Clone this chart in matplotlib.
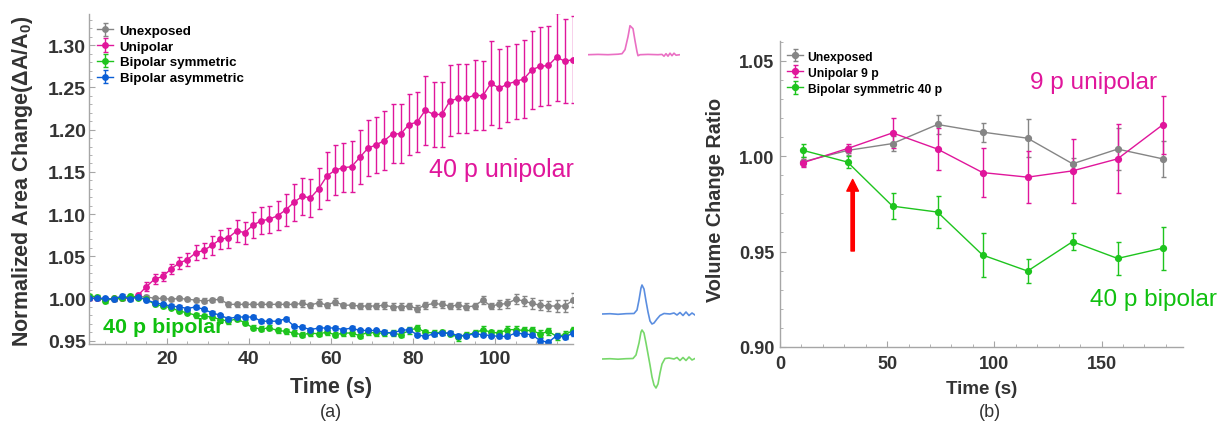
import numpy as np
import matplotlib
matplotlib.use("Agg")
import matplotlib.pyplot as plt

plt.rcParams['font.family'] = ['Liberation Sans', 'DejaVu Sans']
plt.rcParams['mathtext.default'] = 'regular'

# ---- panel (a): normalized area change, one sample every 2 s ----
time_a = np.arange(1, 120, 2)

unexposed_a = [1.000, 1.000, 0.999, 0.999, 1.000, 1.000, 1.002, 1.002, 1.000, 1.000,
               0.999, 1.000, 0.999, 0.998, 0.997, 0.998, 0.999, 0.993, 0.993, 0.993,
               0.993, 0.993, 0.993, 0.993, 0.993, 0.993, 0.994, 0.992, 0.995, 0.992,
               0.996, 0.992, 0.992, 0.991, 0.991, 0.991, 0.992, 0.990, 0.990, 0.991,
               0.988, 0.992, 0.994, 0.993, 0.991, 0.992, 0.990, 0.991, 0.998, 0.991,
               0.993, 0.994, 0.999, 0.997, 0.994, 0.992, 0.991, 0.991, 0.991, 0.998]
unexposed_a_err = [0.002, 0.002, 0.002, 0.002, 0.002, 0.002, 0.002, 0.002, 0.002, 0.002,
                   0.002, 0.002, 0.002, 0.002, 0.003, 0.002, 0.003, 0.003, 0.003, 0.003,
                   0.003, 0.003, 0.003, 0.003, 0.003, 0.003, 0.004, 0.003, 0.004, 0.003,
                   0.004, 0.003, 0.003, 0.003, 0.003, 0.004, 0.004, 0.004, 0.004, 0.004,
                   0.004, 0.004, 0.004, 0.004, 0.004, 0.004, 0.004, 0.004, 0.005, 0.004,
                   0.005, 0.005, 0.006, 0.006, 0.006, 0.006, 0.006, 0.007, 0.007, 0.008]

unipolar_a = [1.000, 1.001, 0.999, 1.000, 1.001, 1.000, 1.004, 1.014, 1.023, 1.026,
              1.035, 1.042, 1.046, 1.054, 1.057, 1.063, 1.070, 1.072, 1.080, 1.078,
              1.087, 1.092, 1.094, 1.098, 1.105, 1.114, 1.121, 1.119, 1.130, 1.145,
              1.152, 1.155, 1.156, 1.167, 1.178, 1.182, 1.187, 1.195, 1.195, 1.206,
              1.209, 1.223, 1.218, 1.218, 1.234, 1.237, 1.237, 1.241, 1.240, 1.255,
              1.249, 1.254, 1.257, 1.260, 1.271, 1.275, 1.276, 1.286, 1.281, 1.283]
unipolar_a_err = [0.002, 0.002, 0.002, 0.002, 0.002, 0.002, 0.003, 0.005, 0.006, 0.005,
                  0.006, 0.007, 0.008, 0.009, 0.009, 0.011, 0.011, 0.012, 0.013, 0.013,
                  0.015, 0.016, 0.016, 0.017, 0.019, 0.022, 0.022, 0.023, 0.024, 0.028,
                  0.030, 0.029, 0.030, 0.032, 0.033, 0.033, 0.035, 0.035, 0.035, 0.036,
                  0.036, 0.041, 0.039, 0.039, 0.042, 0.041, 0.041, 0.042, 0.041, 0.050,
                  0.047, 0.045, 0.045, 0.046, 0.046, 0.047, 0.047, 0.052, 0.050, 0.052]

bipolar_sym_a = [1.003, 1.002, 0.997, 1.000, 1.000, 1.003, 1.001, 0.999, 0.993, 0.991,
                 0.989, 0.985, 0.983, 0.980, 0.979, 0.978, 0.975, 0.973, 0.976, 0.971,
                 0.965, 0.964, 0.965, 0.962, 0.961, 0.959, 0.957, 0.959, 0.958, 0.960,
                 0.957, 0.959, 0.959, 0.956, 0.960, 0.959, 0.959, 0.959, 0.957, 0.962,
                 0.965, 0.960, 0.959, 0.960, 0.958, 0.954, 0.957, 0.959, 0.963, 0.960,
                 0.959, 0.963, 0.963, 0.962, 0.962, 0.958, 0.961, 0.955, 0.957, 0.962]
bipolar_sym_a_err = [0.002, 0.002, 0.002, 0.002, 0.002, 0.002, 0.002, 0.002, 0.002, 0.002,
                     0.002, 0.002, 0.002, 0.003, 0.002, 0.003, 0.003, 0.003, 0.003, 0.003,
                     0.003, 0.003, 0.003, 0.003, 0.003, 0.003, 0.003, 0.003, 0.003, 0.003,
                     0.003, 0.003, 0.003, 0.003, 0.003, 0.003, 0.003, 0.003, 0.003, 0.004,
                     0.004, 0.003, 0.003, 0.003, 0.003, 0.004, 0.003, 0.003, 0.004, 0.003,
                     0.003, 0.004, 0.004, 0.004, 0.004, 0.004, 0.004, 0.004, 0.004, 0.004]

bipolar_asym_a = [1.000, 1.000, 1.000, 0.999, 1.003, 0.999, 1.002, 0.998, 0.995, 0.993,
                  0.991, 0.990, 0.988, 0.990, 0.987, 0.983, 0.980, 0.976, 0.978, 0.978,
                  0.978, 0.973, 0.973, 0.973, 0.976, 0.967, 0.966, 0.963, 0.965, 0.965,
                  0.965, 0.963, 0.965, 0.962, 0.962, 0.962, 0.960, 0.959, 0.962, 0.963,
                  0.957, 0.955, 0.958, 0.959, 0.959, 0.956, 0.956, 0.958, 0.957, 0.956,
                  0.955, 0.955, 0.959, 0.958, 0.957, 0.950, 0.948, 0.956, 0.954, 0.959]
bipolar_asym_a_err = [0.002, 0.002, 0.002, 0.002, 0.002, 0.002, 0.002, 0.002, 0.002, 0.002,
                      0.002, 0.002, 0.002, 0.002, 0.002, 0.002, 0.002, 0.002, 0.002, 0.002,
                      0.002, 0.002, 0.002, 0.002, 0.002, 0.002, 0.002, 0.002, 0.002, 0.002,
                      0.002, 0.002, 0.002, 0.002, 0.002, 0.002, 0.002, 0.002, 0.002, 0.002,
                      0.002, 0.002, 0.002, 0.002, 0.002, 0.002, 0.002, 0.002, 0.002, 0.002,
                      0.002, 0.002, 0.002, 0.002, 0.002, 0.003, 0.003, 0.002, 0.002, 0.003]

# ---- panel (b): volume change ratio ----
time_b = [10.5, 31.5, 52.5, 73.5, 94.5, 115.5, 136.5, 157.5, 178.5]
unexposed_b = [0.9970, 1.0030, 1.0066, 1.0166, 1.0126, 1.0094, 0.9960, 1.0037, 0.9986]
unexposed_b_err = [0.0024, 0.0024, 0.0040, 0.0050, 0.0050, 0.0100, 0.0030, 0.0110, 0.0095]
unipolar_b = [0.9965, 1.0040, 1.0122, 1.0037, 0.9914, 0.9890, 0.9923, 0.9986, 1.0164]
unipolar_b_err = [0.0020, 0.0022, 0.0080, 0.0110, 0.0130, 0.0137, 0.0167, 0.0180, 0.0153]
bipolar_sym_b = [1.0031, 0.9969, 0.9738, 0.9707, 0.9482, 0.9398, 0.9552, 0.9464, 0.9518]
bipolar_sym_b_err = [0.0033, 0.0030, 0.0068, 0.0085, 0.0115, 0.0061, 0.0046, 0.0086, 0.0113]

# ---- pulse shapes (sample index, amplitude) ----
pulse_uni_t = [0, 10, 20, 30, 34, 37, 40, 42, 45, 47, 49, 50, 52, 60, 70, 74, 76, 78, 80, 82, 84, 86, 88, 92]
pulse_uni_v = [0, 0.3, 0, 0.5, 1, 5, 18, 29, 26, 14, 3, -1, 0, 0.3, 0, 0.3, -1.5, 1, -1.5, 1.5, -1, 1.5, -0.5, 0]
pulse_asym_t = [0, 8, 16, 24, 32, 35, 37, 39, 40, 42, 44, 46, 48, 50, 52, 55, 58, 62, 68, 72, 75, 78, 81, 84, 87, 90, 93]
pulse_asym_v = [0, 0.3, -0.3, 0.3, 0.5, 4, 14, 26, 29, 25, 13, 2, -7, -10, -9, -5, -1.5, 0.5, 0, 1, -1, 1.5, -1.5, 2, -1.5, 1, -1]
pulse_sym_t = [0, 8, 16, 24, 31, 34, 37, 39, 40, 42, 44, 46, 48, 50, 52, 54, 56, 58, 60, 63, 67, 72, 75, 78, 81, 84, 87, 90, 93]
pulse_sym_v = [0, 0.3, -0.2, 0.3, 0.5, 4, 16, 27, 29, 26, 16, 5, -6, -18, -26, -29, -25, -14, -5, 0.5, 1, 0, 1.5, -1.5, 1.5, -1.5, 2, -1, 0.5]

GRAY = '#858585'
MAGENTA = '#e0169b'
GREEN = '#1ec41e'
BLUE = '#0b5fd6'
TXT = '#333333'
SPINE = '#a6a6a6'

W, H = 1225, 427
fig = plt.figure(figsize=(W / 100, H / 100), dpi=100)


def px_axes(x0, y0, x1, y1):
    # axes from pixel box (left, top, right, bottom)
    return fig.add_axes([x0 / W, 1 - y1 / H, (x1 - x0) / W, (y1 - y0) / H])


def style_axes(ax, tick_size):
    for s in ('top', 'right'):
        ax.spines[s].set_visible(False)
    for s in ('left', 'bottom'):
        ax.spines[s].set_color(SPINE)
        ax.spines[s].set_linewidth(1.0)
    ax.tick_params(which='both', direction='in', color=SPINE, labelcolor=TXT,
                   labelsize=tick_size)
    ax.tick_params(which='major', length=4)
    ax.tick_params(which='minor', length=2.5)
    for lab in ax.get_xticklabels() + ax.get_yticklabels():
        lab.set_fontweight('bold')


eb = dict(fmt='-o', lw=1, elinewidth=1, capsize=1.8, capthick=1)

# panel (a)
ax = px_axes(89, 15, 573, 345)
ax.errorbar(time_a, unexposed_a, yerr=unexposed_a_err, color=GRAY, ms=3.9, label='Unexposed', **eb)
ax.errorbar(time_a, unipolar_a, yerr=unipolar_a_err, color=MAGENTA, ms=3.9, label='Unipolar', **eb)
ax.errorbar(time_a, bipolar_sym_a, yerr=bipolar_sym_a_err, color=GREEN, ms=3.9, label='Bipolar symmetric', **eb)
ax.errorbar(time_a, bipolar_asym_a, yerr=bipolar_asym_a_err, color=BLUE, ms=3.9, label='Bipolar asymmetric', **eb)
ax.set_xlim(1, 119)
ax.set_ylim(0.946, 1.337)
ax.set_xticks([20, 40, 60, 80, 100])
ax.set_xticks(np.arange(5, 119, 5), minor=True)
ax.set_yticks([0.95, 1.00, 1.05, 1.10, 1.15, 1.20, 1.25, 1.30])
ax.set_yticks(np.arange(0.95, 1.335, 0.01), minor=True)
ax.set_yticklabels(['%.2f' % v for v in ax.get_yticks()])
style_axes(ax, 14)
ax.tick_params(axis='y', pad=2)
ax.tick_params(axis='x', pad=4)
ax.set_xlabel('Time (s)', fontsize=15.5, fontweight='bold', color=TXT, va='center')
ax.xaxis.set_label_coords(0.5, -0.130)
ax.set_ylabel('Normalized Area Change(\u0394A/A$_0$)', fontsize=15.5, fontweight='bold',
              color=TXT, va='center')
ax.yaxis.set_label_coords(-0.138, 0.497)
ax.legend(loc='upper left', bbox_to_anchor=(0.0165, 0.968), frameon=False,
          prop={'weight': 'bold', 'size': 9.6}, handlelength=1.2, handletextpad=0.5,
          labelspacing=0.26, borderaxespad=0, borderpad=0)
ax.text(101.5, 1.153, '40 p unipolar', color=MAGENTA, fontsize=18, ha='center', va='center')
ax.text(19.1, 0.967, '40 p bipolar', color='#10c010', fontsize=15.4, fontweight='bold',
        ha='center', va='center')

# panel (b)
bx = px_axes(780, 41.7, 1183, 348)
bx.errorbar(time_b, unexposed_b, yerr=unexposed_b_err, color=GRAY, ms=4.2, label='Unexposed', **eb)
bx.errorbar(time_b, unipolar_b, yerr=unipolar_b_err, color=MAGENTA, ms=4.2, label='Unipolar 9 p', **eb)
bx.errorbar(time_b, bipolar_sym_b, yerr=bipolar_sym_b_err, color=GREEN, ms=4.2,
            label='Bipolar symmetric 40 p', **eb)
bx.set_xlim(0, 188)
bx.set_ylim(0.90, 1.0605)
bx.set_xticks([0, 50, 100, 150])
bx.set_xticks(np.arange(10, 188, 10), minor=True)
bx.set_yticks([0.90, 0.95, 1.00, 1.05])
bx.set_yticks(np.arange(0.91, 1.06, 0.01), minor=True)
bx.set_yticklabels(['%.2f' % v for v in bx.get_yticks()])
style_axes(bx, 13)
bx.tick_params(axis='y', pad=4)
bx.tick_params(axis='x', pad=6)
bx.set_xlabel('Time (s)', fontsize=13.5, fontweight='bold', color=TXT, va='center')
bx.xaxis.set_label_coords(0.501, -0.137)
bx.set_ylabel('Volume Change Ratio', fontsize=14.3, fontweight='bold', color=TXT, va='center')
bx.yaxis.set_label_coords(-0.159, 0.483)
bx.legend(loc='upper left', bbox_to_anchor=(0.0174, 0.968), frameon=False,
          prop={'weight': 'bold', 'size': 8.7}, handlelength=1.3, handletextpad=0.4,
          labelspacing=0.34, borderaxespad=0, borderpad=0)
bx.text(146.3, 1.0386, '9 p unipolar', color=MAGENTA, fontsize=17.6, ha='center', va='center')
bx.text(174.3, 0.9249, '40 p bipolar', color='#10c010', fontsize=17.6, ha='center', va='center')
bx.annotate('', xy=(33.9, 0.9878), xytext=(33.9, 0.9503),
            arrowprops=dict(facecolor='#ff0000', edgecolor='#ff0000', width=2.4,
                            headwidth=8.4, headlength=8.4, shrink=0))

# pulse shape insets
for t, v, col, box, lim in [
        (pulse_uni_t, pulse_uni_v, '#ea6fc3', (588, 23.7, 680, 63.7), (-8, 32)),
        (pulse_asym_t, pulse_asym_v, '#5b8ee0', (602, 283, 695, 327), (-12, 32)),
        (pulse_sym_t, pulse_sym_v, '#77d86a', (602, 328, 695, 392), (-32, 32))]:
    ix = px_axes(*box)
    ix.plot(t, v, color=col, lw=1.2)
    ix.set_xlim(0, t[-1])
    ix.set_ylim(*lim)
    ix.axis('off')

fig.text(331 / W, 1 - 413 / H, '(a)', fontsize=13, color=TXT, ha='center', va='center')
fig.text(990 / W, 1 - 413 / H, '(b)', fontsize=13, color=TXT, ha='center', va='center')

fig.savefig('out.png', dpi=100)
